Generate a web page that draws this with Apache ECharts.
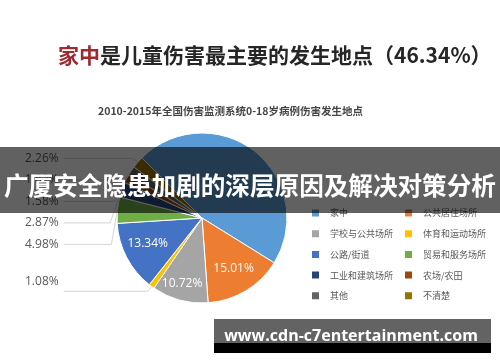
<!DOCTYPE html>
<html><head><meta charset="utf-8">
<script src="https://cdn.jsdelivr.net/npm/echarts@6/dist/echarts.min.js"></script>
<style>html,body{margin:0;padding:0;background:#fff}#c{width:500px;height:362px}</style>
</head><body><div id="c"></div>
<script>
// ---- data ----
const categories = ['家中','公共居住场所','学校与公共场所','体育和运动场所','公路/街道','贸易和服务场所','工业和建筑场所','农场/农田','其他','不清楚'];
const shares = [46.34, 15.01, 10.72, 1.08, 13.34, 4.98, 2.87, 1.58, 1.82, 2.26];
const titleHighlight = '家中';
const titleRest = '是儿童伤害最主要的发生地点（46.34%）';
const subtitleText = '2010-2015年全国伤害监测系统0-18岁病例伤害发生地点';
const bannerText = '广厦安全隐患加剧的深层原因及解决对策分析';
const watermarkText = 'www.cdn-c7entertainment.com';

// ---- styles ----
const colors = ['#5B9BD5','#ED7D31','#A5A5A5','#FFC000','#4472C4','#70AD47','#264478','#9E480E','#636363','#997300'];
const insideOffsets = {1:[8,12], 2:[-8,22], 4:[-14,4]};
const hiddenLabel = {0:true};
const labelNudge = {3:-10};

const chart = echarts.init(document.getElementById('c'), null, {renderer:'canvas'});

const pieData = categories.map((n,i)=>{
  const item = {name:n, value:shares[i], itemStyle:{color:colors[i]}};
  if (hiddenLabel[i]) {
    item.label = {show:false}; item.labelLine = {show:false};
  } else if (insideOffsets[i]) {
    item.label = {show:true, position:'inside', color:'#fff', fontSize:12, offset:insideOffsets[i], fontFamily:'Open Sans'};
    item.labelLine = {show:false};
  }
  return item;
});

const col1 = categories.filter((_,i)=>i%2===0);
const col2 = categories.filter((_,i)=>i%2===1);
const legendBase = {orient:'vertical', top:202.5, itemWidth:9, itemHeight:9, itemGap:9.7, icon:'rect',
  textStyle:{fontSize:9, color:'#595959', padding:[0,0,0,5], fontFamily:'Noto Sans CJK SC'}, selectedMode:false};

chart.setOption({
  backgroundColor:'#fff',
  color: colors,
  animation:false,
  title:[
    {text:'{a|'+titleHighlight+'}{b|'+titleRest+'}', left:53, top:40,
      textStyle:{rich:{a:{fontSize:21, color:'#9c2a2e', fontFamily:'Noto Sans CJK SC'}, b:{fontSize:21, color:'#262626', fontFamily:'Noto Sans CJK SC'}}}},
    {text:subtitleText, left:93, top:101, textStyle:{fontSize:10.5, fontWeight:'bold', color:'#454545', fontFamily:'Noto Sans CJK SC'}}
  ],
  legend:[
    Object.assign({}, legendBase, {left:305, data:col1}),
    Object.assign({}, legendBase, {left:398, data:col2})
  ],
  series:[{
    type:'pie', center:[202,218], radius:[0,85], startAngle:135, clockwise:true,
    itemStyle:{borderColor:'#fff', borderWidth:1},
    label:{show:true, position:'outside', formatter:'{c}%', alignTo:'edge', edgeDistance:25, fontSize:12, color:'#595959', lineHeight:19.5, fontFamily:'Open Sans'},
    labelLine:{show:true, length:6, length2:10, lineStyle:{color:'#d4d4d4', width:1}},
    labelLayout: function(p){ return labelNudge[p.dataIndex] ? {dy: labelNudge[p.dataIndex]} : {}; },
    data:pieData
  }],
  graphic:[
    {type:'rect', z:100, shape:{x:0, y:147, width:500, height:66}, style:{fill:'rgba(0,0,0,0.62)'}},
    {type:'text', z:101, style:{x:4, y:186, text:bannerText, fill:'#fff', font:'bold 24.6px "Noto Sans CJK SC"', verticalAlign:'middle'}},
    {type:'rect', z:100, shape:{x:214, y:319, width:277, height:24}, style:{fill:'#636363'}},
    {type:'rect', z:100, shape:{x:214, y:343, width:277, height:10}, style:{fill:'#000'}},
    {type:'text', z:101, style:{x:351, y:336, text:watermarkText, fill:'#fff', font:'bold 16px "Open Sans"', align:'center', verticalAlign:'middle'}}
  ]
});
</script></body></html>
